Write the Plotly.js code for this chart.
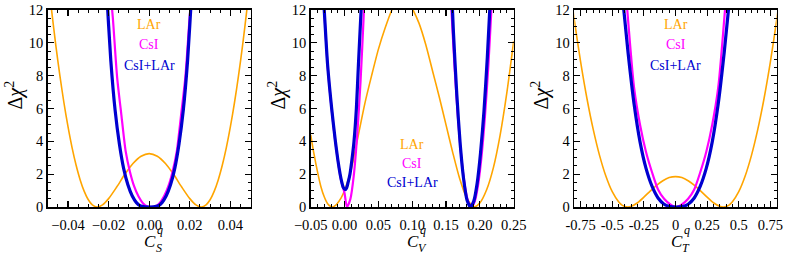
<!DOCTYPE html>
<html>
<head>
<meta charset="utf-8">
<script src="https://cdn.plot.ly/plotly-3.0.1.min.js"></script>
<style>html,body{margin:0;padding:0;background:#fff;}#chart{width:789px;height:258px;}</style>
</head>
<body>
<div id="chart"></div>
<script>
// ---------- Panel 1: C_S^q ----------
const csX_LAr = [-0.050,-0.048,-0.046,-0.044,-0.042,-0.040,-0.038,-0.036,-0.034,-0.032,-0.030,-0.028,-0.0257,-0.023,-0.020,-0.016,-0.012,-0.008,-0.004,0,0.004,0.008,0.012,0.016,0.020,0.023,0.0257,0.028,0.030,0.032,0.034,0.036,0.038,0.040,0.042,0.044,0.046,0.048,0.050];
const csY_LAr = [14.1,11.9,9.85,8.0,6.35,4.89,3.62,2.54,1.65,0.95,0.44,0.13,0,0.13,0.51,1.22,1.99,2.65,3.09,3.25,3.09,2.65,1.99,1.22,0.51,0.13,0,0.13,0.44,0.95,1.65,2.54,3.62,4.89,6.35,8.0,9.85,11.9,14.1];
const csX_CsI = [-0.020,-0.0179,-0.0158,-0.0137,-0.0116,-0.0095,-0.0074,-0.0053,-0.0032,-0.0011,0.001,0.0031,0.0052,0.0073,0.0094,0.0115,0.0136,0.0157,0.0178,0.0199,0.022];
const csY_CsI = [14.5,11.5,7.9,5.6,3.4,2.15,1.25,0.65,0.25,0.04,0,0.04,0.25,0.65,1.25,2.15,3.4,5.6,7.9,11.5,14.5];
const csX_Both = [-0.0231,-0.021,-0.0189,-0.0168,-0.0147,-0.0126,-0.0105,-0.0084,-0.0063,-0.0042,-0.0021,0,0.0021,0.0042,0.0063,0.0084,0.0105,0.0126,0.0147,0.0168,0.0189,0.021,0.0231];
const csY_Both = [17.5,13.2,8.9,5.9,3.85,2.35,1.35,0.68,0.27,0.06,0.01,0,0.01,0.06,0.27,0.68,1.35,2.35,3.85,5.9,8.9,13.2,17.5];

// ---------- Panel 2: C_V^q ----------
const cvX_LAr = [-0.05,-0.045,-0.04,-0.035,-0.03,-0.025,-0.0185,-0.012,-0.005,0,0.01,0.02,0.03,0.04,0.05,0.06,0.07,0.08,0.086,0.09,0.10,0.11,0.12,0.13,0.14,0.15,0.16,0.17,0.18,0.191,0.20,0.21,0.22,0.23,0.24,0.25];
const cvY_LAr = [4.4,3.2,2.15,1.25,0.62,0.2,0,0.15,0.55,1.0,2.3,4.3,6.3,8.0,9.6,10.9,12.0,12.7,12.85,12.8,12.1,11.2,9.9,8.3,6.7,5.0,3.3,1.75,0.6,0,0.25,1.05,2.4,4.4,7.0,10.1];
const cvX_CsI = [-0.034,-0.030,-0.025,-0.019,-0.0135,-0.0065,-0.004,-0.002,0.0,0.0036,0.0086,0.0136,0.0186,0.0236,0.0286,0.0316,null,0.1555,0.158,0.1625,0.1675,0.1725,0.1775,0.1825,0.1875,0.1925,0.1975,0.2025,0.2075,0.2125,0.217,0.2195];
const cvY_CsI = [14.4,11.95,8.6,5.95,3.95,1.95,1.45,1.15,0.85,0,0.48,1.9,4.3,7.6,11.9,14.9,null,14.1,12,8.6,5.5,3.1,1.38,0.35,0,0.35,1.38,3.1,5.5,8.6,12,14.1];
const cvX_Both = [-0.034,-0.030,-0.025,-0.019,-0.0135,-0.010,-0.0065,-0.004,-0.002,0.001,0.003,0.005,0.008,0.011,0.014,0.0175,0.0205,0.0245,0.027,null,0.156,0.161,0.166,0.171,0.176,0.181,0.186,0.191,0.196,0.201,0.206,0.211,0.216];
const cvY_Both = [14.5,12,8.65,6,4,2.9,2,1.5,1.2,1.05,1.15,1.45,2,2.9,4,6,8.65,12,14,null,15.3,10.6,6.8,3.8,1.7,0.43,0,0.36,1.45,3.3,5.8,9.1,13.1];

// ---------- Panel 3: C_T^q ----------
const ctX_LAr = [-0.82,-0.8,-0.75,-0.7,-0.65,-0.6,-0.55,-0.5,-0.45,-0.42,-0.38,-0.35,-0.3,-0.25,-0.2,-0.15,-0.1,-0.05,0,0.05,0.1,0.15,0.2,0.25,0.3,0.35,0.38,0.42,0.45,0.5,0.55,0.6,0.65,0.7,0.75,0.8,0.82];
const ctY_LAr = [12.5,11.4,8.84,6.61,4.71,3.13,1.87,0.93,0.32,0.10,0,0.04,0.26,0.60,0.97,1.32,1.60,1.79,1.85,1.79,1.60,1.32,0.97,0.60,0.26,0.04,0,0.10,0.32,0.93,1.87,3.13,4.71,6.61,8.84,11.4,12.5];
const ctX_CsI = [-0.423,-0.375,-0.328,-0.28,-0.233,-0.185,-0.138,-0.09,-0.043,0.005,0.053,0.1,0.148,0.195,0.243,0.29,0.338,0.385,0.433];
const ctY_CsI = [16,11.4,7.3,5.0,3.35,2.1,1.07,0.5,0.17,0,0.17,0.5,1.07,2.1,3.35,5.0,7.3,11.4,16];
const ctX_Both = [-0.423,-0.375,-0.328,-0.28,-0.233,-0.185,-0.138,-0.09,-0.043,0.005,0.053,0.1,0.148,0.195,0.243,0.29,0.338,0.385,0.433];
const ctY_Both = [13.1,9.41,6.3,3.95,2.35,1.25,0.55,0.17,0.025,0,0.025,0.17,0.55,1.25,2.35,3.95,6.3,9.41,13.1];

// tick labels
const yTickVals = [0,2,4,6,8,10,12];
const yTickText = ['0','2','4','6','8','10','12'];
const csTickVals = [-0.04,-0.02,0,0.02,0.04];
const csTickText = ['\u22120.04','\u22120.02','0.00','0.02','0.04'];
const cvTickVals = [-0.05,0,0.05,0.10,0.15,0.20,0.25];
const cvTickText = ['\u22120.05','0.00','0.05','0.10','0.15','0.20','0.25'];
const ctTickVals = [-0.75,-0.5,-0.25,0,0.25,0.5,0.75];
const ctTickText = ['-0.75','-0.5','-0.25','0','0.25','0.5','0.75'];

const seriesNames = ['LAr','CsI','CsI+LAr'];
const colors = {LAr:'#ffa500', CsI:'#ff00ff', Both:'#0000d0'};
const widths = {LAr:1.6, CsI:2.2, Both:3.2};
const subs = ['S','V','T'];

const W = 789, H = 258;
const px = v => v / W;
const py = v => 1 - v / H;

function tr(x, y, key, ax, ay) {
  return {x: x, y: y, xaxis: ax, yaxis: ay, type: 'scatter', mode: 'lines',
    line: {color: colors[key], width: widths[key], shape: 'spline', smoothing: 0.7},
    connectgaps: false, hoverinfo: 'skip', showlegend: false};
}

const data = [
  tr(csX_LAr, csY_LAr, 'LAr', 'x', 'y'),
  tr(csX_CsI, csY_CsI, 'CsI', 'x', 'y'),
  tr(csX_Both, csY_Both, 'Both', 'x', 'y'),
  tr(cvX_LAr, cvY_LAr, 'LAr', 'x2', 'y2'),
  tr(cvX_CsI, cvY_CsI, 'CsI', 'x2', 'y2'),
  tr(cvX_Both, cvY_Both, 'Both', 'x2', 'y2'),
  tr(ctX_LAr, ctY_LAr, 'LAr', 'x3', 'y3'),
  tr(ctX_CsI, ctY_CsI, 'CsI', 'x3', 'y3'),
  tr(ctX_Both, ctY_Both, 'Both', 'x3', 'y3')
];

const FONT = 'Liberation Serif';
function minorOf(d) {
  return {ticks: 'inside', ticklen: 3, tickwidth: 1, tickcolor: '#000', dtick: d, tick0: 0, showgrid: false};
}
function axisBase(extra) {
  return Object.assign({
    showline: true, linecolor: '#000', linewidth: 1.6, mirror: 'allticks',
    ticks: 'inside', ticklen: 6, tickwidth: 1.2, tickcolor: '#000',
    showgrid: false, zeroline: false, tickangle: 0, tickmode: 'array',
    tickfont: {family: FONT, size: 14.5, color: '#000'}
  }, extra);
}

const plotL = [47.7, 310.7, 574.3], plotR = [250.7, 513.7, 776.7];
const yDom = [py(207), py(10)];

const layout = {
  width: W, height: H, margin: {l: 0, r: 0, t: 0, b: 0},
  font: {family: FONT, size: 14, color: '#000'},
  paper_bgcolor: '#fff', plot_bgcolor: '#fff', showlegend: false,
  xaxis: axisBase({domain: [px(plotL[0]), px(plotR[0])], range: [-0.05, 0.05], tickvals: csTickVals, ticktext: csTickText, anchor: 'y', ticklabelstandoff: 4, minor: minorOf(0.005)}),
  yaxis: axisBase({domain: yDom, range: [0, 12], tickvals: yTickVals, ticktext: yTickText, anchor: 'x', minor: minorOf(0.5)}),
  xaxis2: axisBase({domain: [px(plotL[1]), px(plotR[1])], range: [-0.05, 0.25], tickvals: cvTickVals, ticktext: cvTickText, anchor: 'y2', ticklabelstandoff: 4, minor: minorOf(0.01)}),
  yaxis2: axisBase({domain: yDom, range: [0, 12], tickvals: yTickVals, ticktext: yTickText, anchor: 'x2', minor: minorOf(0.5)}),
  xaxis3: axisBase({domain: [px(plotL[2]), px(plotR[2])], range: [-0.8, 0.8], tickvals: ctTickVals, ticktext: ctTickText, anchor: 'y3', ticklabelstandoff: 4, minor: minorOf(0.05)}),
  yaxis3: axisBase({domain: yDom, range: [0, 12], tickvals: yTickVals, ticktext: yTickText, anchor: 'x3', minor: minorOf(0.5)}),
  annotations: []
};

const ann = layout.annotations;
function txt(text, x, y, size, color, extra) {
  ann.push(Object.assign({text: text, xref: 'paper', yref: 'paper', x: px(x), y: py(y),
    xanchor: 'center', yanchor: 'middle', showarrow: false, borderpad: 0,
    font: {family: FONT, size: size, color: color}}, extra || {}));
}

// legends (as text labels inside the panels)
const legendPos = [[149.2, 25, 20], [412.2, 144, 19.3], [675.5, 25, 20]];
legendPos.forEach(([cx, y0, dyy]) => {
  txt(seriesNames[0], cx, y0, 14, colors.LAr);
  txt(seriesNames[1], cx, y0 + dyy, 14, colors.CsI);
  txt(seriesNames[2], cx, y0 + 2 * dyy, 14, colors.Both);
});

// axis titles
const centers = [149.2, 412.2, 675.5];
const ylabX = [13.5, 276.5, 539.5];
centers.forEach((c, i) => {
  txt('<i>C</i>', c + 1, 241, 17, '#000');
  txt('<i>q</i>', c + 11, 230, 12, '#000');
  txt('<i>' + subs[i] + '</i>', c + 10, 247.5, 12, '#000');
  txt('Δ<i>χ</i><sup>2</sup>', ylabX[i], 95, 20, '#000', {textangle: -90});
});

Plotly.newPlot('chart', data, layout, {staticPlot: true, displayModeBar: false});
</script>
</body>
</html>
